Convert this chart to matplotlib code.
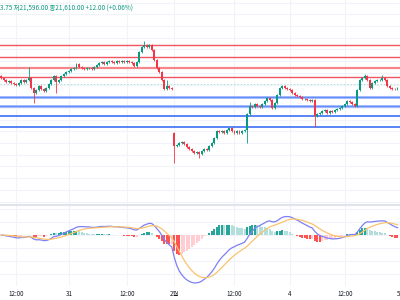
import numpy as np
import pandas as pd
import matplotlib
matplotlib.use('Agg')
import matplotlib.pyplot as plt
from matplotlib.ticker import MultipleLocator

plt.rcParams['font.family'] = ['Noto Sans CJK KR', 'DejaVu Sans']

# 30분봉 종가 (NQ), 차트에서 읽은 값
closes = [21710, 21690, 21670, 21680, 21660, 21650, 21640, 21660, 21690, 21670,
          21690, 21710, 21610, 21560, 21590, 21630, 21600, 21580, 21610, 21650,
          21690, 21730, 21670, 21690, 21730, 21750, 21770, 21780, 21800, 21810,
          21850, 21820, 21810, 21800, 21810, 21810, 21800, 21820, 21840, 21860,
          21870, 21850, 21870, 21880, 21870, 21860, 21880, 21870, 21880, 21870,
          21880, 21870, 21860, 21830, 21870, 21970, 22020, 22040, 22020, 22040,
          21990, 21890, 21810, 21770, 21690, 21600, 21630, 21610, 21600,
          21030, 21040, 21060, 21070, 21050, 21020, 21000, 20980, 20960, 20970,
          20950, 20980, 21000, 20990, 21030, 21060, 21110, 21180, 21170, 21180,
          21160, 21190, 21210, 21180, 21160, 21180, 21160, 21180, 21190, 21350,
          21430, 21420, 21450, 21430, 21420, 21450, 21480, 21510, 21490, 21410,
          21460, 21540, 21610, 21630, 21610, 21600, 21590, 21560, 21540, 21530,
          21520, 21500, 21500, 21490, 21480, 21490, 21330, 21350, 21360, 21380,
          21390, 21360, 21380, 21370, 21390, 21400, 21410, 21430, 21450, 21480,
          21470, 21450, 21430, 21590, 21690, 21710, 21730, 21690, 21610, 21660,
          21680, 21690, 21690, 21710, 21690, 21630, 21610, 21600, 21598, 21610]
gap_opens = {0: 21730, 69: 21160}
long_highs = {11: 21820, 57: 22080, 66: 21690, 99: 21470, 145: 21750, 152: 21740}
long_lows = {13: 21460, 22: 21560, 69: 20860, 79: 20910, 98: 21060, 125: 21220}

red_levels = [22040, 21920, 21720]
pink_level = 21810
blue_light_levels = [21520, 21430]
blue_levels = [21330, 21220]
ref_level = 21650

tick_idx = [6, 27, 50, 69, 93, 115, 137, 159]
tick_labels = ['12:00', '31', '12:00', '2월', '12:00', '4', '12:00', '5']
header = '3.75 저21,596.00 종21,610.00 +12.00 (+0.06%)'

UP = '#089981'
DN = '#f23645'

n = len(closes)
x = np.arange(n)
c = np.array(closes, dtype=float)
o = np.r_[c[0], c[:-1]]
for k, v in gap_opens.items():
    o[k] = v
hi = np.maximum(o, c) + 8
lo = np.minimum(o, c) - 8
for k, v in long_highs.items():
    hi[k] = v
for k, v in long_lows.items():
    lo[k] = v

s = pd.Series(c)
macd = s.ewm(span=12, adjust=False).mean() - s.ewm(span=26, adjust=False).mean()
signal = macd.ewm(span=9, adjust=False).mean()
hist = (macd - signal).values
macd = macd.values
signal = signal.values

fig = plt.figure(figsize=(4, 3), dpi=100)
ax = fig.add_axes([0, 1 - 205 / 300, 1, 205 / 300])
ax2 = fig.add_axes([0, 14 / 300, 1, 81 / 300])

for a in (ax, ax2):
    for sp in a.spines.values():
        sp.set_visible(False)
    a.set_xlim(-0.5, n - 0.5)
    a.set_xticks(tick_idx)
    a.grid(True, color='#f0f3fa', lw=0.8)
    a.set_axisbelow(True)
    a.tick_params(length=0, labelleft=False)

ax.set_ylim(20440, 22490)
ax.yaxis.set_major_locator(MultipleLocator(117))
ax.tick_params(labelbottom=False)

# 수평 레벨
for lv in red_levels:
    ax.axhline(lv, color=DN, lw=1.0, alpha=0.85, zorder=1)
ax.axhline(pink_level, color='#f7868c', lw=1.6, zorder=1)
for lv in blue_light_levels:
    ax.axhline(lv, color='#98b3ff', lw=2.0, zorder=1)
    ax.axhline(lv, color='#5c86fa', lw=0.6, zorder=1)
for lv in blue_levels:
    ax.axhline(lv, color='#3d6ef5', lw=1.2, zorder=1)
ax.axhline(ref_level, color=UP, lw=0.6, ls=(0, (2, 2)), alpha=0.35, zorder=1)

# 캔들
cols = np.where(c >= o, UP, DN)
ax.vlines(x, lo, hi, colors=cols, lw=0.6, zorder=3)
body = np.maximum(np.abs(c - o), 5)
ax.bar(x, body, bottom=np.minimum(o, c), width=0.78, color=cols, lw=0, zorder=4)

# MACD
hcols = []
for i in range(n):
    prev = hist[i - 1] if i > 0 else 0
    if hist[i] >= 0:
        hcols.append('#26a69a' if hist[i] > prev else '#b2dfdb')
    else:
        hcols.append('#ffcdd2' if hist[i] > prev else '#ff5252')
ax2.bar(x, hist, width=0.8, color=hcols, lw=0, zorder=2)
ax2.plot(x, macd, color='#7f7ff5', lw=0.9, zorder=3)
ax2.plot(x, signal, color='#fbc36b', lw=0.9, zorder=3)
m = abs(macd.min())
u = m / 48
ax2.set_ylim(-51 * u, 30 * u)
ax2.yaxis.set_major_locator(MultipleLocator(13 * u))
ax2.set_xticklabels(tick_labels, fontsize=4.5, color='#131722')
ax2.get_xticklabels()[-1].set_ha('right')
ax2.tick_params(pad=3)

fig.add_artist(plt.Line2D([0, 1], [1 - 205 / 300] * 2, color='#e0e3eb', lw=1.5))
fig.text(0.0, 0.985, header, fontsize=4.6, color=UP, va='top', ha='left')

fig.savefig('out.png', dpi=100, facecolor='white')
